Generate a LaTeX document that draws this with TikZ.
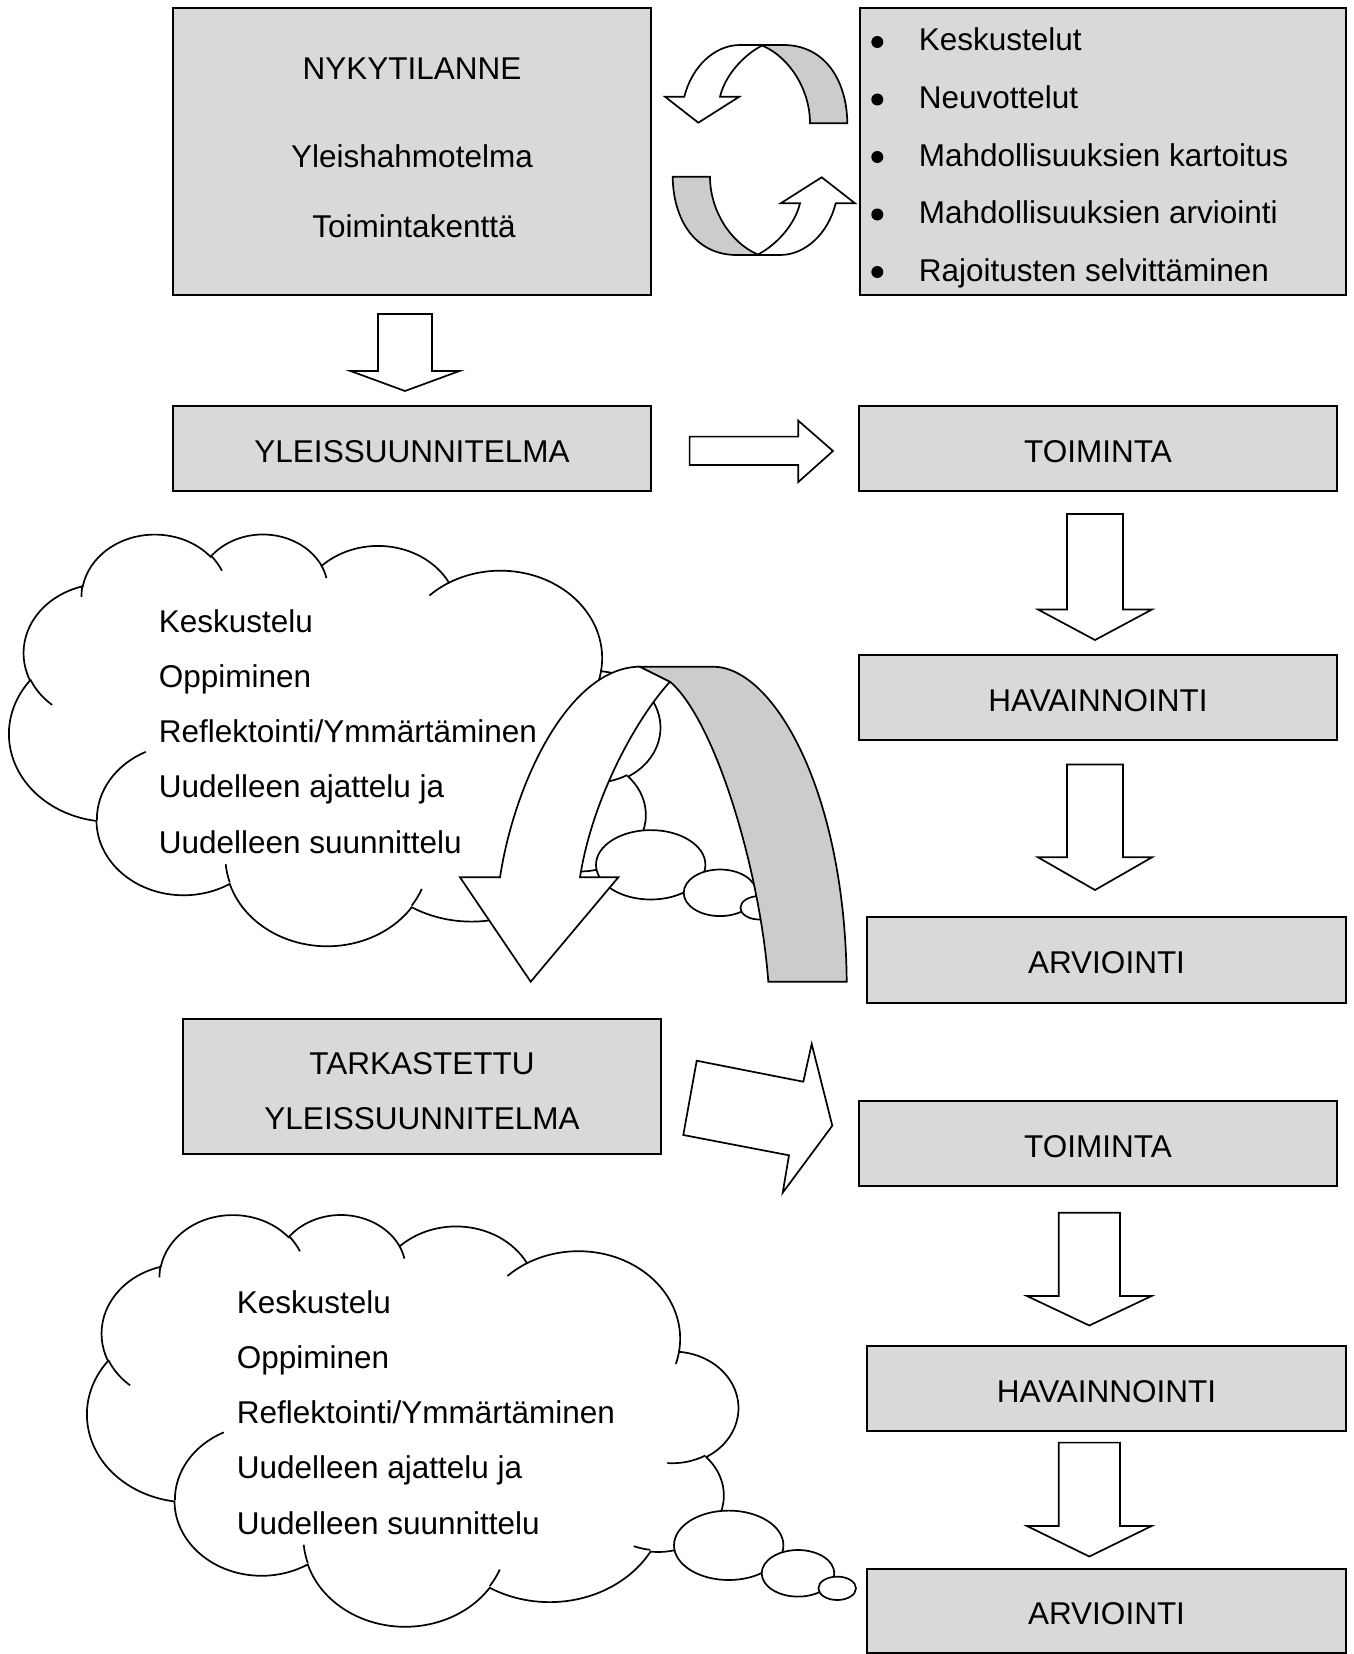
\documentclass[tikz,border=0pt]{standalone}
\usepackage{fontspec}
\setmainfont{Liberation Sans}

\definecolor{laatikko}{gray}{0.85}
\definecolor{nauha}{gray}{0.8}

\tikzset{
  vaihe/.style={draw, fill=laatikko, line width=2pt, inner sep=0pt, minimum width=478pt, minimum height=85pt,
    text height=27pt, text depth=0pt},
  lohko/.style={draw, fill=white, line join=miter},
  rivi/.style={anchor=base west, inner sep=0pt},
  otsake/.style={anchor=base, inner sep=0pt},
}

% pystysuora lohkonuoli: x, varren puolileveys, karjen puolileveys, ylareuna, karjen kanta, karki
\newcommand{\alasnuoli}[6]{%
  \draw[lohko] ({#1-#2},#4) -- ({#1+#2},#4) -- ({#1+#2},#5) -- ({#1+#3},#5)
    -- (#1,#6) -- ({#1-#3},#5) -- ({#1-#2},#5) -- cycle;}

% ajatuspilvi (alemman pilven paikalla)
\newcommand{\ajatuspilvi}{%
  \begin{scope}[x=1pt, y=1pt, xshift=737.96pt, yshift=-1213.63pt, xscale=-0.15063, yscale=-0.09527]
    \draw[fill=white] (390,1437)
      arc[start angle=172.25, end angle=300.36, x radius=675.3, y radius=919]
      arc[start angle=207.97, end angle=314.58, x radius=533.3, y radius=726.7]
      arc[start angle=206.52, end angle=322.67, x radius=436.5, y radius=594.5]
      arc[start angle=220.29, end angle=349.79, x radius=485.7, y radius=659.5]
      arc[start angle=285.23, end angle=383.21, x radius=533.3, y radius=727.3]
      arc[start angle=322.46, end angle=441.86, x radius=677.5, y radius=922]
      arc[start angle=0.46, end angle=121.98, x radius=578.5, y radius=786.7]
      arc[start angle=16.84, end angle=146.25, x radius=675.2, y radius=921.5]
      arc[start angle=58.98, end angle=150.20, x radius=772, y radius=1054.3]
      arc[start angle=83.31, end angle=223.11, x radius=436, y radius=591.8]
      arc[start angle=120.36, end angle=264.11, x radius=434.5, y radius=594.5]
      -- cycle;
    \draw (469.3,2617.7) arc[start angle=85.55, end angle=120.36, x radius=434.5, y radius=594.5];
    \draw (692.8,3489.9) arc[start angle=68.23, end angle=83.31, x radius=436, y radius=591.8];
    \draw (1647.8,3909) arc[start angle=146.25, end angle=158.47, x radius=675.2, y radius=921.5];
    \draw (2882.7,3475.1) arc[start angle=4.74, end angle=16.84, x radius=675.2, y radius=921.5];
    \draw (3412.9,2295.4) arc[start angle=-64.03, end angle=0.46, x radius=578.5, y radius=786.7];
    \draw (4179.8,1535.4) arc[start angle=23.21, end angle=49.63, x radius=533.3, y radius=727.3];
    \draw (3832.4,542.6) arc[start angle=-10.21, end angle=0.82, x radius=485.7, y radius=659.5];
    \draw (2907.8,395.2) arc[start angle=-156.29, end angle=-139.71, x radius=485.7, y radius=659.5];
    \draw (2214.1,472) arc[start angle=-167.72, end angle=-153.48, x radius=436.5, y radius=594.5];
    \draw (1400,519.2) arc[start angle=-59.64, end angle=-45.72, x radius=675.3, y radius=919];
    \draw (412.7,1578.9) arc[start angle=163.19, end angle=172.25, x radius=675.3, y radius=919];
  \end{scope}
  \draw[fill=white] (728.7,1545.3) ellipse[x radius=54.7pt, y radius=34.7pt];
  \draw[fill=white] (798,1573.3) ellipse[x radius=36.3pt, y radius=23.3pt];
  \draw[fill=white] (837.2,1588.3) ellipse[x radius=18.8pt, y radius=11.7pt];
}

\begin{document}
\begin{tikzpicture}[x=1pt, y=-1pt, line width=1.7pt, font=\fontsize{31.5pt}{38pt}\selectfont]
  \useasboundingbox (0,0) rectangle (1354,1654);

  % laatikot
  \node[vaihe, minimum height=287pt] (nyky) at (412,151.5) {};
  \node[otsake] (nyky1) at (412,80) {NYKYTILANNE};
  \node[otsake] (nyky2) at (412,167) {Yleishahmotelma};
  \node[otsake] (nyky3) at (414,237) {Toimintakenttä};

  \node[vaihe, minimum width=486pt, minimum height=287pt] (keinot) at (1103,151.5) {};
  \foreach \kohta [count=\i] in {Keskustelut, Neuvottelut, Mahdollisuuksien kartoitus,
      Mahdollisuuksien arviointi, Rajoitusten selvittäminen} {
    \node[rivi] (kohta\i) at (918,{51+57.5*(\i-1)}) {\kohta};
    \fill (877.3,{51+57.5*(\i-1)-9}) circle[radius=6pt];
  }

  \node[vaihe] (yleis) at (412,448.5) {YLEISSUUNNITELMA};
  \node[vaihe] (toim1) at (1098,448.5) {TOIMINTA};
  \node[vaihe] (hav1) at (1098,697.5) {HAVAINNOINTI};
  \node[vaihe, minimum width=479pt, minimum height=86pt] (arv1) at (1106.5,960) {ARVIOINTI};

  \node[vaihe, minimum height=135pt] (tark) at (422,1086.5) {};
  \node[otsake] (tark1) at (422,1074) {TARKASTETTU};
  \node[otsake] (tark2) at (422,1129) {YLEISSUUNNITELMA};

  \node[vaihe] (toim2) at (1098,1143.5) {TOIMINTA};
  \node[vaihe, minimum width=479pt] (hav2) at (1106.5,1388.5) {HAVAINNOINTI};
  \node[vaihe, minimum width=479pt, minimum height=84pt] (arv2) at (1106.5,1611) {ARVIOINTI};

  % kiertonuolet
  \foreach \kulma in {0,180} {
    \begin{scope}[rotate around={\kulma:(760,150)}]
      \draw[fill=white] (684.3,96.7) .. controls (692,66) and (715,45) .. (740,45) -- (763.3,45)
        .. controls (748,52) and (726,72) .. (720,96.7) -- (739.3,96.7) -- (698.3,122.7)
        -- (665,96.7) -- cycle;
      \draw[fill=nauha] (763.3,45) -- (783.3,45) .. controls (826,45) and (847,82) .. (847.3,123.3)
        -- (810,123.3) .. controls (810,90) and (790,58) .. (763.3,46) -- cycle;
    \end{scope}
  }

  % suorat lohkonuolet
  \alasnuoli{405}{27}{54.5}{314}{371}{391}
  \draw[lohko] (689.6,436.6) -- (798.3,436.6) -- (798.3,420.7) -- (833,451) -- (798.3,482)
    -- (798.3,465) -- (689.6,465) -- cycle;
  \alasnuoli{1095}{28}{57}{514}{609.5}{640}
  \alasnuoli{1095}{28}{57}{764.5}{857.3}{890}
  \alasnuoli{1089.3}{30.6}{62.3}{1212.7}{1296}{1325.5}
  \alasnuoli{1089.3}{30.6}{62.3}{1442.6}{1526}{1556.5}

  % pilvet
  \begin{scope}[shift={(-78,-680.5)}]
    \ajatuspilvi
  \end{scope}
  \ajatuspilvi
  \foreach \rivi [count=\i] in {Keskustelu, Oppiminen, Reflektointi/Ymmärtäminen,
      Uudelleen ajattelu ja, Uudelleen suunnittelu} {
    \node[rivi] (pilvia\i) at (158,{632+55.25*(\i-1)}) {\rivi};
    \node[rivi] (pilvib\i) at (236,{1313+55.25*(\i-1)}) {\rivi};
  }

  % iso kaarinuoli
  \draw[fill=white] (500,877.3) .. controls (515,780) and (570,667) .. (640,666.7) -- (670,681.7)
    .. controls (635,720) and (592,800) .. (580,877.3) -- (618.3,877.3) -- (530.7,981.7)
    -- (460,877.3) -- cycle;
  \draw[fill=nauha] (640,666.7) -- (713.3,666.7) .. controls (773,667) and (845,790) .. (846.7,981.7)
    -- (768.3,981.7) .. controls (760,870) and (715,720) .. (670,681.7) -- cycle;

  % vino nuoli
  \draw[lohko] (696.7,1060.7) -- (803.3,1081.7) -- (811.7,1044) -- (832.3,1125.7) -- (782.7,1192.7)
    -- (789,1155.3) -- (683.3,1135) -- cycle;
\end{tikzpicture}
\end{document}
